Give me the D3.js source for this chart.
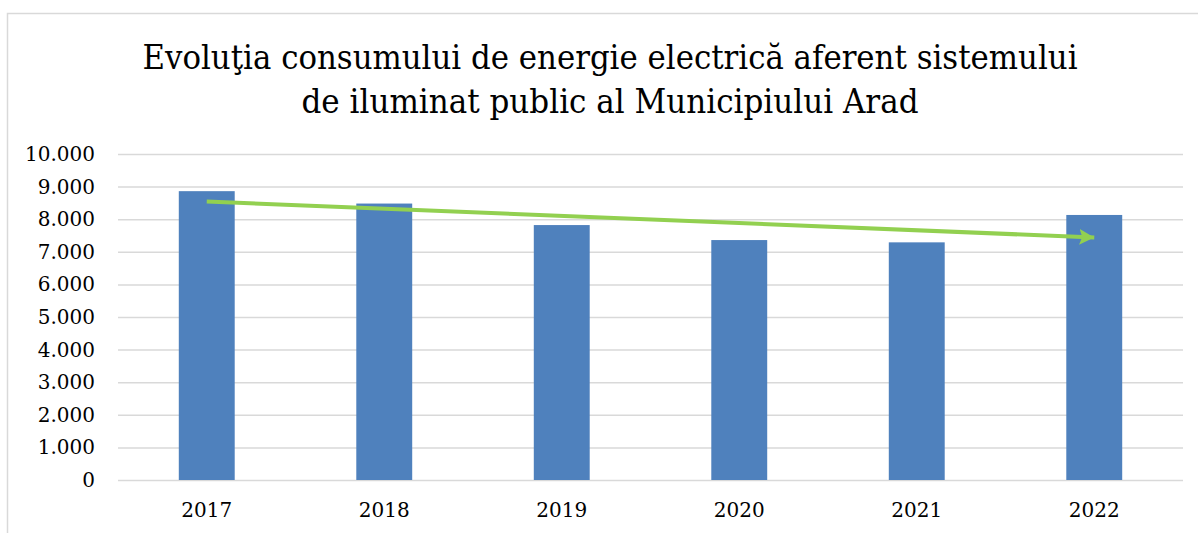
<!DOCTYPE html>
<html>
<head>
<meta charset="utf-8">
<script src="https://cdn.jsdelivr.net/npm/d3@7"></script>
<style>
  body { margin: 0; background: #fff; }
  text { font-family: "DejaVu Serif", "Liberation Serif", serif; fill: #000; }
</style>
</head>
<body>
<div id="chart"></div>
<script>
// chart data
var years = ["2017", "2018", "2019", "2020", "2021", "2022"];
var consumption = [8860, 8480, 7820, 7360, 7290, 8130];
var yTicks = [0, 1000, 2000, 3000, 4000, 5000, 6000, 7000, 8000, 9000, 10000];
// trend arrow (value at first and last year)
var trendYears = ["2017", "2022"];
var trendValues = [8540, 7440];
var titleLines = [
  "Evoluţia consumului de energie electrică aferent sistemului",
  "de iluminat public al Municipiului Arad"
];

var width = 1198, height = 533;
var margin = {top: 154, right: 15, bottom: 53, left: 118};

var svg = d3.select("#chart").append("svg")
    .attr("width", width)
    .attr("height", height);

// outer chart border
svg.append("rect")
   .attr("x", 7.5).attr("y", 13.5)
   .attr("width", width + 20).attr("height", height + 20)
   .attr("fill", "none")
   .attr("stroke", "#d9d9d9")
   .attr("stroke-width", 1.5);

// title
var titleWidths = [935, 617];
svg.selectAll(".title")
   .data(titleLines)
   .enter().append("text")
   .attr("class", "title")
   .attr("x", 610)
   .attr("y", function(d, i) { return 69 + i * 44; })
   .attr("text-anchor", "middle")
   .style("font-size", "33px")
   .attr("textLength", function(d, i) { return titleWidths[i]; })
   .attr("lengthAdjust", "spacingAndGlyphs")
   .text(function(d) { return d; });

var xScale = d3.scaleBand()
   .domain(years)
   .range([margin.left, width - margin.right])
   .paddingInner(0.685)
   .paddingOuter(0.3425);

var yScale = d3.scaleLinear()
   .domain([0, 10000])
   .range([height - margin.bottom, margin.top]);

var fmt = function(v) { return d3.format(",")(v).replace(/,/g, "."); };

// gridlines
svg.append("g")
   .attr("class", "grid")
   .attr("transform", "translate(" + margin.left + ",0)")
   .call(d3.axisRight(yScale).tickValues(yTicks)
         .tickSize(width - margin.right - margin.left).tickFormat(""))
   .call(function(g) { g.select(".domain").remove(); })
   .selectAll("line")
   .attr("stroke", "#d9d9d9")
   .attr("stroke-width", 1.5);

// y axis labels
svg.append("g")
   .attr("transform", "translate(95,0)")
   .call(d3.axisLeft(yScale).tickValues(yTicks).tickSize(0).tickPadding(0).tickFormat(fmt))
   .call(function(g) { g.select(".domain").remove(); })
   .selectAll("text")
   .style("font-size", "20px")
   .style("font-family", "DejaVu Serif")
   .attr("fill", "#000");

// x axis labels
svg.append("g")
   .attr("transform", "translate(0," + (height - margin.bottom) + ")")
   .call(d3.axisBottom(xScale).tickSize(0).tickPadding(23))
   .call(function(g) { g.select(".domain").remove(); })
   .selectAll("text")
   .style("font-size", "20px")
   .style("font-family", "DejaVu Serif")
   .attr("fill", "#000");

// bars
svg.selectAll(".bar")
   .data(consumption)
   .enter().append("rect")
   .attr("class", "bar")
   .attr("x", function(d, i) { return xScale(years[i]); })
   .attr("y", function(d) { return yScale(d); })
   .attr("width", xScale.bandwidth())
   .attr("height", function(d) { return yScale(0) - yScale(d); })
   .attr("fill", "#4f81bd");

// arrow head
svg.append("defs").append("marker")
   .attr("id", "arrow")
   .attr("markerUnits", "userSpaceOnUse")
   .attr("viewBox", "0 0 16 16")
   .attr("refX", 15).attr("refY", 8)
   .attr("markerWidth", 16).attr("markerHeight", 16)
   .attr("orient", "auto")
   .append("path")
   .attr("d", "M0,0 L15,8 L0,16 L3,8 Z")
   .attr("fill", "#92d050");

// trend arrow
var line = d3.line()
   .x(function(d, i) { return xScale(trendYears[i]) + xScale.bandwidth() / 2; })
   .y(function(d) { return yScale(d); });

svg.append("path")
   .datum(trendValues)
   .attr("d", line)
   .attr("fill", "none")
   .attr("stroke", "#92d050")
   .attr("stroke-width", 4)
   .attr("marker-end", "url(#arrow)");
</script>
</body>
</html>
